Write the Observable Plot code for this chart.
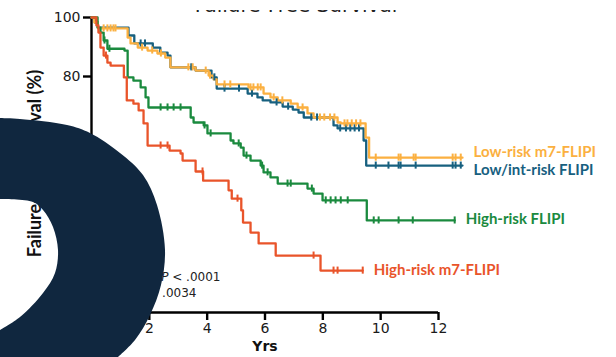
<!DOCTYPE html>
<html><head><meta charset="utf-8">
<script src="https://cdn.jsdelivr.net/npm/d3@7"></script>
<script src="https://cdn.jsdelivr.net/npm/@observablehq/plot@0.6"></script>
<style>
body{margin:0;background:#fff;}
#wrap{position:relative;width:616px;height:357px;overflow:hidden;background:#fff;}
#wrap > svg{position:absolute;left:0;top:0;}
</style></head><body><div id="wrap"></div>
<script>
// ---- data (years, % failure-free survival) ----
const seriesNames = ["Low/int-risk FLIPI", "Low-risk m7-FLIPI", "High-risk FLIPI", "High-risk m7-FLIPI"];
const seriesColors = ["#17607f", "#fbb040", "#1a8a3e", "#e9542a"];

const lowIntTimes = [0, 0.12, 0.22, 1.28, 1.48, 2.12, 2.38, 2.63, 2.73, 3.60, 4.15, 4.33, 5.40, 5.74, 5.92, 6.19, 6.61, 6.96, 7.16, 7.34, 8.37, 8.51, 9.41, 9.50];
const lowIntSurv  = [100, 98.3, 96.6, 93.9, 91.2, 89.8, 88.1, 87.1, 83.1, 82.0, 79.7, 75.9, 74.2, 72.9, 71.9, 71.2, 69.8, 68.8, 67.8, 66.1, 63.4, 62.4, 58.3, 49.8];
const lowIntEnd = 12.83;
const lowIntCensor = [1.7, 1.85, 3.45, 4.25, 4.6, 5.1, 5.55, 6.4, 6.8, 7.6, 7.8, 8.6, 8.8, 8.95, 9.1, 9.25, 9.83, 10.27, 10.62, 10.69, 11.21, 12.49, 12.59, 12.77];

const lowM7Times = [0, 0.10, 0.22, 1.25, 1.35, 1.60, 1.94, 2.28, 2.55, 2.73, 3.60, 4.05, 4.22, 4.33, 5.43, 5.95, 6.19, 6.44, 6.89, 7.13, 7.47, 7.68, 8.51, 8.62, 9.48, 9.60];
const lowM7Surv  = [100, 98.3, 96.3, 93.2, 91.2, 89.8, 88.8, 87.8, 86.4, 83.1, 82.0, 80.3, 79.0, 77.3, 76.3, 74.2, 72.9, 71.9, 70.8, 69.5, 67.5, 66.1, 64.4, 64.1, 59.3, 52.5];
const lowM7End = 12.83;
const lowM7Censor = [0.42, 0.55, 0.66, 0.76, 0.83, 1.75, 2.1, 2.4, 3.35, 3.5, 3.95, 4.1, 4.6, 4.8, 5.5, 5.6, 5.75, 5.85, 6.3, 6.6, 7.3, 7.9, 8.05, 8.25, 8.4, 8.75, 8.85, 9.0, 9.15, 9.3, 9.83, 10.62, 10.69, 11.14, 11.21, 12.49, 12.59, 12.77];

const highTimes = [0, 0.21, 0.31, 0.42, 0.55, 1.14, 1.25, 1.45, 1.70, 1.87, 1.97, 3.43, 3.53, 3.88, 4.01, 4.81, 4.91, 5.16, 5.26, 5.50, 5.85, 5.95, 6.19, 6.44, 7.47, 7.68, 7.99, 9.52];
const highSurv  = [100, 96.6, 94.9, 92.2, 89.4, 88.8, 79.7, 78.6, 76.3, 72.9, 69.5, 66.1, 64.4, 63.4, 60.7, 58.3, 57.3, 55.9, 53.2, 51.5, 49.8, 47.5, 45.8, 43.7, 42.0, 40.3, 38.0, 31.2];
const highEnd = 12.56;
const highCensor = [0.45, 0.62, 2.39, 2.63, 2.84, 3.08, 3.91, 4.12, 5.09, 5.36, 5.9, 6.09, 6.78, 6.89, 7.62, 8.10, 8.27, 8.44, 8.62, 8.86, 9.76, 9.93, 10.62, 11.11, 12.56];

const highM7Times = [0, 0.17, 0.24, 0.31, 0.42, 0.55, 0.66, 1.12, 1.22, 1.45, 1.63, 1.80, 1.94, 2.70, 3.08, 3.15, 3.60, 3.86, 4.74, 4.85, 5.18, 5.24, 5.50, 5.78, 6.37, 7.92];
const highM7Surv  = [100, 97.3, 94.9, 89.8, 87.1, 84.7, 83.7, 79.7, 71.9, 70.8, 68.5, 64.1, 56.6, 54.9, 53.9, 51.5, 47.8, 44.7, 41.4, 38.6, 34.6, 30.5, 27.1, 23.4, 19.3, 14.2];
const highM7End = 9.38;
const highM7Censor = [0.5, 2.39, 2.63, 3.84, 5.05, 7.68, 8.37, 8.51, 9.38];

const xTicks = [0, 2, 4, 6, 8, 10, 12];
const yTicks = [0, 20, 40, 60, 80, 100];
const pLines = ["FLIPI P < .0001", "m7-FLIPI P = .0034"];
const titleText = "Failure-Free Survival";
const yLabel = "Failure-free survival (%)";
const xLabel = "Yrs";

// ---- build tables ----
const raw = [
  [lowIntTimes, lowIntSurv, lowIntEnd, lowIntCensor],
  [lowM7Times, lowM7Surv, lowM7End, lowM7Censor],
  [highTimes, highSurv, highEnd, highCensor],
  [highM7Times, highM7Surv, highM7End, highM7Censor]
];
const steps = [], ticks = [], ends = [];
raw.forEach(([T, S, end, C], k) => {
  const name = seriesNames[k];
  T.forEach((t, i) => steps.push({name, t, s: S[i]}));
  steps.push({name, t: end, s: S[S.length - 1]});
  const at = t => { let v = S[0]; for (let i = 0; i < T.length; i++) if (T[i] <= t) v = S[i]; return v; };
  C.forEach(c => ticks.push({name, t: c, s: at(c)}));
  ends.push({name, t: end, s: S[S.length - 1]});
});
const labelOffsets = {"Low/int-risk FLIPI": 4.5, "Low-risk m7-FLIPI": -5, "High-risk FLIPI": -1, "High-risk m7-FLIPI": 0};

const color = {domain: seriesNames, range: seriesColors};
const font = "DejaVu Sans, sans-serif";

const chart = Plot.plot({
  width: 616, height: 357,
  marginLeft: 91, marginRight: 178, marginTop: 17, marginBottom: 45,
  x: {domain: [0, 12], label: null},
  y: {domain: [0, 100], label: null},
  color,
  style: {fontFamily: font, fontSize: "14px", color: "#1a1a1a", background: "#fff"},
  marks: [
    Plot.axisX({ticks: xTicks, tickSize: 8, tickPadding: 3, strokeWidth: 2.4, stroke: "#000", fontSize: 14, label: null}),
    Plot.axisY({ticks: yTicks, tickSize: 8, tickPadding: 3, strokeWidth: 2.4, stroke: "#000", fontSize: 14, label: null}),
    Plot.ruleY([0], {stroke: "#000", strokeWidth: 2.4}),
    Plot.ruleX([0], {stroke: "#000", strokeWidth: 2.4}),
    Plot.line(steps, {x: "t", y: "s", z: "name", stroke: "name", curve: "step-after", strokeWidth: 2.3}),
    Plot.ruleX(ticks, {x: "t", y1: d => d.s - 1.2, y2: d => d.s + 1.2, stroke: "name", strokeWidth: 2}),
    Plot.text(ends, {x: "t", y: "s", text: "name", fill: "name", textAnchor: "start", dx: 11,
      fontWeight: "bold", fontSize: 15, fontFamily: "Lato, sans-serif"}),
    Plot.text([pLines[0]], {x: [4.46], y: [11.9], text: d => d, textAnchor: "end", fontSize: 12, fill: "#222"}),
    Plot.text([pLines[1]], {x: [3.63], y: [6.4], text: d => d, textAnchor: "end", fontSize: 12, fill: "#222"}),
    Plot.text([xLabel], {x: [6], y: [-11.5], text: d => d, fontWeight: "bold", fontSize: 14, fill: "#111"}),
    Plot.text([yLabel], {x: [-1.94], y: [50.5], text: d => d, rotate: -90, fontWeight: "bold", fontSize: 18, fill: "#111", fontFamily: "Lato, sans-serif"})
  ]
});
document.getElementById("wrap").appendChild(chart);

// adjust label vertical offsets, italic P
d3.select(chart).selectAll("text").each(function() {
  const t = this.textContent;
  if (labelOffsets[t] !== undefined) {
    this.setAttribute("transform", ((this.getAttribute("transform") || "") + ` translate(0,${labelOffsets[t]})`).trim());
  }
  if (pLines.includes(t)) {
    const idx = t.indexOf("P ");
    const before = t.slice(0, idx), after = t.slice(idx + 1);
    this.textContent = "";
    const sel = d3.select(this);
    sel.append("tspan").text(before);
    sel.append("tspan").attr("font-style", "italic").text("P");
    sel.append("tspan").text(after);
  }
});

// decorative overlay: title cut off at the top edge, and dark ring shape
const ov = d3.select("#wrap").append("svg").attr("width", 616).attr("height", 357);
const band = ov.append("svg").attr("x", 0).attr("y", 10).attr("width", 616).attr("height", 3).attr("overflow", "hidden");
band.append("text").attr("x", 296).attr("y", 2).attr("text-anchor", "middle")
  .attr("font-family", font).attr("font-size", 20).attr("fill", "#222").text(titleText);
const outer = [[0,118],[20,119],[67,125],[90,133],[120,153],[143,175],[157,205],[165,250],[161,285],[150,315],[135,340],[118,357]];
const inner = [[0,199],[33,202],[43,210],[53,227],[58,250],[55,273],[43,293],[20,317],[0,330]];
const ln = d3.line().curve(d3.curveCatmullRom);
const d = ln(outer) + "L0,357Z" + ln(inner) + "Z";
ov.append("path").attr("d", d).attr("fill", "#10273f").attr("fill-rule", "evenodd");
</script>
</body></html>
